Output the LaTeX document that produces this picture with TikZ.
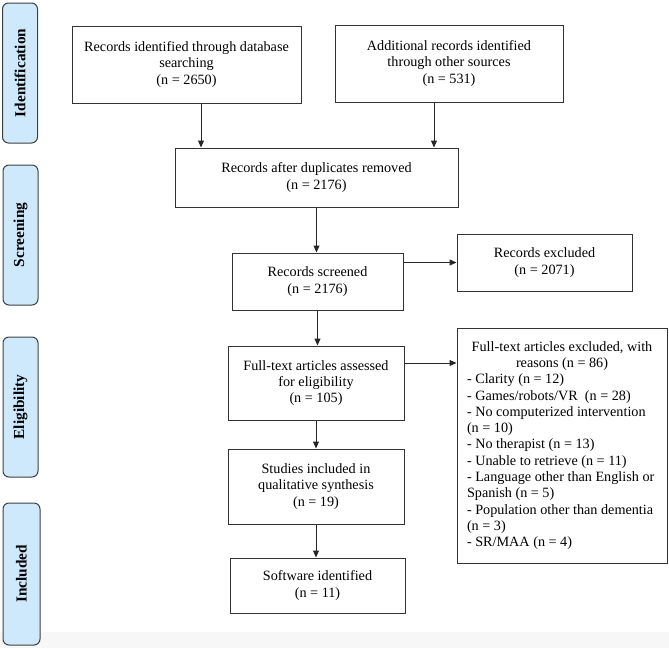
\documentclass[tikz,border=0pt]{standalone}
\usepackage{fontspec}
\setmainfont{Liberation Serif}
\usepackage{tikz}
\usetikzlibrary{arrows.meta}

\definecolor{phasefill}{RGB}{205,233,251}

\tikzset{
  box/.style={draw=black!80, line width=1pt, rectangle, inner sep=0pt, align=center,
    font=\fontsize{14.2}{16.3}\selectfont},
  phase/.style={draw=black!75, line width=1pt, rounded corners=6pt, fill=phasefill,
    rotate=90, minimum width=140pt, minimum height=35pt, inner sep=0pt,
    font=\fontsize{15.3}{17}\selectfont\bfseries},
  arr/.style={-{Triangle[length=7pt,width=6pt]}, line width=1pt, draw=black!85},
}

\begin{document}
\begin{tikzpicture}[x=1pt, y=-1pt]
    \useasboundingbox (0,0) rectangle (669,648);
    \fill[black!3] (0,632) rectangle (669,648);

    % phases
    \node (ident) [phase] at (20,73) {Identification};
    \node (screen) [phase] at (20.5,235) {Screening};
    \node (elig) [phase] at (20.5,407) {Eligibility};
    \node (incl) [phase, minimum width=142pt, minimum height=37pt] at (21.5,574) {Included};

    % boxes
    \node (db) [box, minimum width=229pt, minimum height=77pt] at (186.5,64.5)
        {Records identified through database\\ searching\\ (n = 2650)};
    \node (other) [box, minimum width=228pt, minimum height=77pt] at (449,63.5)
        {Additional records identified\\ through other sources\\ (n = 531)};
    \node (dup) [box, minimum width=283pt, minimum height=59pt] at (316.5,177.5)
        {Records after duplicates removed\\ (n = 2176)};
    \node (scr) [box, minimum width=171pt, minimum height=57pt] at (317.5,281.5)
        {Records screened\\ (n = 2176)};
    \node (excl) [box, minimum width=175pt, minimum height=57pt] at (544.5,262.5)
        {Records excluded\\ (n = 2071)};
    \node (assess) [box, minimum width=176pt, minimum height=74pt] at (316,383)
        {Full-text articles assessed\\ for eligibility\\ (n = 105)};
    \node (ftex) [box, minimum width=210pt, minimum height=235pt, align=left] at (562,445.5)
        {\makebox[190pt]{Full-text articles excluded, with}\\
         \makebox[190pt]{reasons (n = 86)}\\
         - Clarity (n = 12)\\
         - Games/robots/VR\ \ (n = 28)\\
         - No computerized intervention\\
         (n = 10)\\
         - No therapist (n = 13)\\
         - Unable to retrieve (n = 11)\\
         - Language other than English or\\
         Spanish (n = 5)\\
         - Population other than dementia\\
         (n = 3)\\
         - SR/MAA (n = 4)};
    \node (studies) [box, minimum width=176pt, minimum height=75pt] at (316,486.5)
        {Studies included in\\ qualitative synthesis\\ (n = 19)};
    \node (soft) [box, minimum width=175pt, minimum height=55pt] at (317.5,585.5)
        {Software identified\\ (n = 11)};

    % connectors
    \draw[arr] ([xshift=14.5pt]db.south) -- ([xshift=14.5pt]db.south |- dup.north);
    \draw[arr] ([xshift=-15pt]other.south) -- ([xshift=-15pt]other.south |- dup.north);
    \draw[arr] (dup.south) -- (dup.south |- scr.north);
    \draw[arr] (scr.south) -- (scr.south |- assess.north);
    \draw[arr] (assess.south) -- (assess.south |- studies.north);
    \draw[arr] (studies.south) -- (studies.south |- soft.north);
    \draw[arr] (excl.west -| scr.east) -- (excl.west);
    \draw[arr] ([yshift=20pt]assess.east) -- ([yshift=20pt]assess.east -| ftex.west);
\end{tikzpicture}
\end{document}
